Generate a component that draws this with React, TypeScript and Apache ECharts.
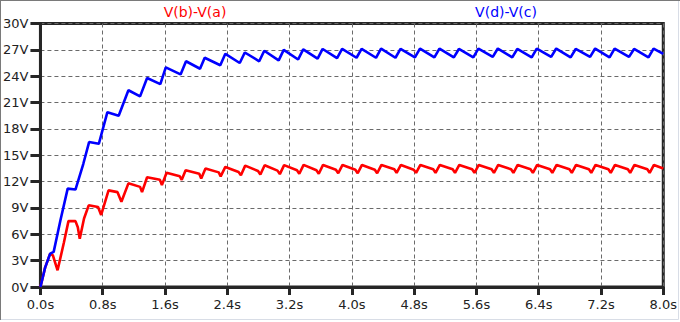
import React, { useEffect, useRef } from "react";
import * as echarts from "echarts";

const xTickLabels = ["0.0s", "0.8s", "1.6s", "2.4s", "3.2s", "4.0s", "4.8s", "5.6s", "6.4s", "7.2s", "8.0s"];
const yTickLabels = ["0V", "3V", "6V", "9V", "12V", "15V", "18V", "21V", "24V", "27V", "30V"];
const seriesNames = ["V(b)-V(a)", "V(d)-V(c)"];

const blueTimes = [
  0, 0.06, 0.125, 0.17, 0.257, 0.35, 0.45, 0.55, 0.625, 0.75, 0.86,
  1.005, 1.13, 1.28, 1.37, 1.54, 1.61, 1.8, 1.87, 2.05, 2.11, 2.31, 2.375,
  2.56, 2.625, 2.81, 2.875, 3.06, 3.125, 3.31, 3.375, 3.56, 3.625, 3.81, 3.875,
  4.06, 4.125, 4.31, 4.375, 4.56, 4.625, 4.81, 4.875, 5.06, 5.125, 5.31, 5.375,
  5.56, 5.625, 5.81, 5.875, 6.06, 6.125, 6.31, 6.375, 6.56, 6.625, 6.81, 6.875,
  7.06, 7.125, 7.31, 7.375, 7.56, 7.625, 7.81, 7.875, 8.0,
];
const blueValues = [
  0, 2.2, 3.8, 4.0, 7.6, 11.2, 11.1, 14.0, 16.5, 16.3, 19.9,
  19.5, 22.4, 21.7, 23.8, 23.1, 25.0, 24.2, 25.7, 24.85, 26.1, 25.25, 26.55,
  25.5, 26.7, 25.7, 26.9, 25.8, 27.0, 25.9, 27.05, 26.0, 27.1, 26.05, 27.1,
  26.1, 27.1, 26.1, 27.15, 26.1, 27.1, 26.15, 27.15, 26.15, 27.15, 26.15, 27.1,
  26.15, 27.15, 26.2, 27.15, 26.15, 27.1, 26.15, 27.15, 26.2, 27.15, 26.15, 27.1,
  26.2, 27.15, 26.15, 27.15, 26.2, 27.1, 26.15, 27.15, 26.55,
];

const redTimes = [
  0, 0.06, 0.125, 0.16, 0.22, 0.3, 0.36, 0.45, 0.48, 0.505, 0.56, 0.62,
  0.74, 0.78, 0.875, 0.99, 1.04, 1.13, 1.28, 1.305, 1.37, 1.535, 1.56, 1.62,
  1.79, 1.815, 1.865, 2.04, 2.065, 2.12, 2.29, 2.315, 2.375,
  2.545, 2.575, 2.63, 2.795, 2.825, 2.88, 3.045, 3.075, 3.13, 3.295, 3.325, 3.38,
  3.545, 3.575, 3.63, 3.795, 3.825, 3.88, 4.045, 4.075, 4.13, 4.295, 4.325, 4.38,
  4.545, 4.575, 4.63, 4.795, 4.825, 4.88, 5.045, 5.075, 5.13, 5.295, 5.325, 5.38,
  5.545, 5.575, 5.63, 5.795, 5.825, 5.88, 6.045, 6.075, 6.13, 6.295, 6.325, 6.38,
  6.545, 6.575, 6.63, 6.795, 6.825, 6.88, 7.045, 7.075, 7.13, 7.295, 7.325, 7.38,
  7.545, 7.575, 7.63, 7.795, 7.825, 7.88, 8.0,
];
const redValues = [
  0, 2.2, 3.8, 3.6, 1.9, 5.0, 7.5, 7.5, 6.8, 5.5, 7.8, 9.3,
  9.1, 8.2, 11.0, 10.8, 9.7, 11.8, 11.4, 10.8, 12.5, 12.2, 11.6, 13.0,
  12.6, 12.2, 13.3, 12.9, 12.35, 13.5, 13.05, 12.6, 13.67,
  13.1, 12.73, 13.82, 13.2, 12.8, 13.86, 13.25, 12.85, 13.88, 13.3, 12.9, 13.9,
  13.3, 12.9, 13.9, 13.35, 12.95, 13.9, 13.35, 12.95, 13.9, 13.35, 12.95, 13.9,
  13.4, 13.0, 13.9, 13.35, 13.0, 13.9, 13.4, 13.0, 13.9, 13.4, 13.0, 13.9,
  13.4, 13.0, 13.9, 13.4, 13.0, 13.9, 13.4, 13.0, 13.9, 13.4, 13.0, 13.9,
  13.4, 13.0, 13.9, 13.4, 13.0, 13.9, 13.4, 13.0, 13.9, 13.4, 13.0, 13.9,
  13.4, 13.0, 13.9, 13.4, 13.0, 13.9, 13.5,
];

const FONT = "DejaVu Sans";

export default function App() {
  const ref = useRef<HTMLDivElement>(null);
  useEffect(() => {
    if (!ref.current) return;
    const chart = echarts.init(ref.current, null, { renderer: "svg" });
    const red = redTimes.map((t, i) => [t, redValues[i]]);
    const blue = blueTimes.map((t, i) => [t, blueValues[i]]);
    chart.setOption({
      animation: false,
      backgroundColor: "#ffffff",
      grid: {
        left: 40,
        top: 23.5,
        right: 16.5,
        bottom: 35,
        show: true,
        borderColor: "#262626",
        borderWidth: 3,
        backgroundColor: "transparent",
      },
      xAxis: {
        type: "value",
        min: 0,
        max: 8,
        interval: 0.8,
        axisLine: { show: true, lineStyle: { color: "#262626", width: 3 } },
        axisTick: { show: true, length: 8, lineStyle: { color: "#262626", width: 3 } },
        axisLabel: {
          margin: 11,
          color: "#222",
          fontFamily: FONT,
          fontSize: 13,
          formatter: (v: number) => xTickLabels[Math.round(v / 0.8)] ?? "",
        },
        splitLine: { show: true, lineStyle: { color: "#6a6a6a", width: 1, type: [4, 3] } },
      },
      yAxis: {
        type: "value",
        min: 0,
        max: 30,
        interval: 3,
        axisLine: { show: true, lineStyle: { color: "#262626", width: 3 } },
        axisTick: { show: true, length: 10, lineStyle: { color: "#262626", width: 3 } },
        axisLabel: {
          margin: 12,
          color: "#222",
          fontFamily: FONT,
          fontSize: 13,
          formatter: (v: number) => yTickLabels[Math.round(v / 3)] ?? "",
        },
        splitLine: { show: true, lineStyle: { color: "#6a6a6a", width: 1, type: [4, 3] } },
      },
      graphic: [
        { type: "rect", shape: { x: 0.5, y: 0.5, width: 678, height: 319 }, style: { fill: "none", stroke: "#d8dde6", lineWidth: 1 }, silent: true },
        { type: "line", shape: { x1: 0, y1: 0.5, x2: 680, y2: 0.5 }, style: { stroke: "#7a7a7a", lineWidth: 1 }, silent: true },
        { type: "line", shape: { x1: 0.5, y1: 0, x2: 0.5, y2: 320 }, style: { stroke: "#7a7a7a", lineWidth: 1 }, silent: true },
        { type: "text", x: 195, y: 12, style: { text: seriesNames[0], fill: "#ff0000", font: `14px '${FONT}'`, textAlign: "center", textVerticalAlign: "middle" } },
        { type: "text", x: 506, y: 12, style: { text: seriesNames[1], fill: "#0000ff", font: `14px '${FONT}'`, textAlign: "center", textVerticalAlign: "middle" } },
      ],
      series: [
        { name: seriesNames[0], type: "line", data: red, showSymbol: false, lineStyle: { color: "#ff0000", width: 2.6 }, itemStyle: { color: "#ff0000" }, z: 3 },
        { name: seriesNames[1], type: "line", data: blue, showSymbol: false, lineStyle: { color: "#0000ff", width: 2.6 }, itemStyle: { color: "#0000ff" }, z: 4 },
      ],
    });
    return () => chart.dispose();
  }, []);
  return <div ref={ref} style={{ position: "absolute", left: 0, top: 0, width: 680, height: 322 }} />;
}
